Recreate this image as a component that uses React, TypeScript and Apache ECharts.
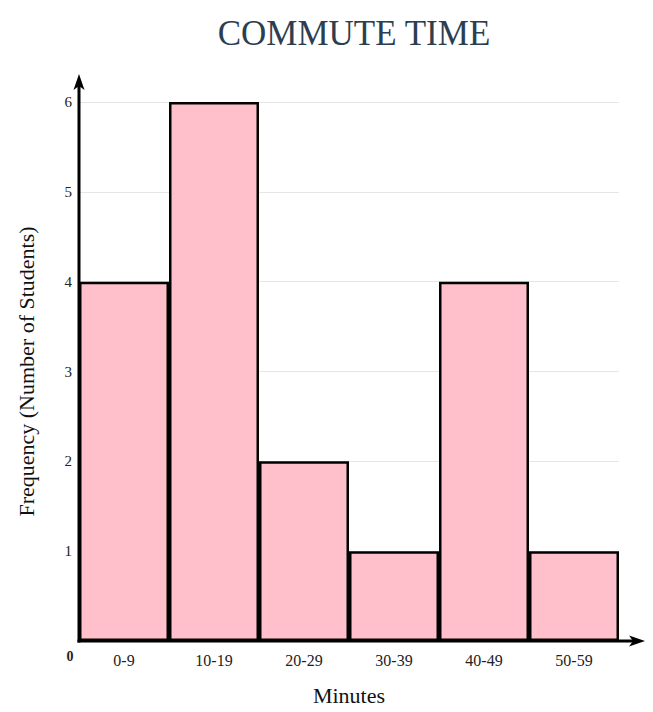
import React, { useEffect, useRef } from "react";
import * as echarts from "echarts";

const categories = ["0-9", "10-19", "20-29", "30-39", "40-49", "50-59"];
const frequencies = [4, 6, 2, 1, 4, 1];
const yTicks = [0, 1, 2, 3, 4, 5, 6];
const titleText = "COMMUTE TIME";
const xName = "Minutes";
const yName = "Frequency (Number of Students)";

const FONT = "'Liberation Serif', 'DejaVu Serif', serif";
const GRID = { left: 79, right: 34, top: 102, bottom: 71 };
const WIDTH = 653;
const HEIGHT = 712;

export default function App() {
  const ref = useRef<HTMLDivElement>(null);
  useEffect(() => {
    document.body.style.margin = "0";
    const chart = echarts.init(ref.current!, null, { renderer: "svg" });
    const yMax = yTicks[yTicks.length - 1];
    const plotCenter = GRID.left + (WIDTH - GRID.left - GRID.right) / 2;
    chart.setOption({
      animation: false,
      backgroundColor: "#ffffff",
      title: {
        text: titleText,
        left: plotCenter,
        textAlign: "center",
        top: 11,
        textStyle: { fontFamily: FONT, fontSize: 35, fontWeight: "normal", color: "#2c3e50" },
      },
      grid: GRID,
      xAxis: {
        type: "category",
        data: categories,
        name: xName,
        nameLocation: "middle",
        nameGap: 43,
        nameTextStyle: { fontFamily: FONT, fontSize: 22, color: "#111" },
        axisLine: { show: false },
        axisTick: { show: false },
        axisLabel: { margin: 11, fontFamily: FONT, fontSize: 16, color: "#222" },
        splitLine: { show: false },
      },
      yAxis: {
        type: "value",
        min: 0,
        max: yMax,
        interval: 1,
        name: yName,
        nameLocation: "middle",
        nameGap: 42,
        nameTextStyle: { fontFamily: FONT, fontSize: 22, color: "#111" },
        axisLine: { show: false },
        axisTick: { show: false },
        axisLabel: { margin: 7, fontFamily: FONT, fontSize: 15, color: "#222", showMinLabel: false },
        splitLine: { show: true, lineStyle: { color: "#e6e6e6", width: 1 } },
      },
      series: [
        {
          type: "bar",
          data: frequencies,
          barWidth: "100%",
          barCategoryGap: 0,
          itemStyle: { color: "#ffc0cb", borderColor: "#000", borderWidth: 2.5 },
          z: 3,
        },
      ],
    });

    const origin = chart.convertToPixel({ gridIndex: 0 }, [0, 0]) as number[];
    const topPt = chart.convertToPixel({ yAxisIndex: 0 }, yMax) as number;
    const lastCat = chart.convertToPixel({ xAxisIndex: 0 }, categories.length - 1) as number;
    const firstCat = chart.convertToPixel({ xAxisIndex: 0 }, 0) as number;
    const band = categories.length > 1 ? (lastCat - firstCat) / (categories.length - 1) : 90;
    const ox = firstCat - band / 2;
    const oy = origin[1];
    const rightEnd = lastCat + band / 2;
    const yTip = topPt - 28;
    const xTip = rightEnd + 26;

    chart.setOption({
      graphic: [
        {
          type: "line",
          z: 10,
          shape: { x1: ox, y1: oy + 1.5, x2: ox, y2: yTip + 8 },
          style: { stroke: "#000", lineWidth: 3 },
        },
        {
          type: "line",
          z: 10,
          shape: { x1: ox - 1.5, y1: oy, x2: xTip - 8, y2: oy },
          style: { stroke: "#000", lineWidth: 3 },
        },
        {
          type: "polygon",
          z: 11,
          shape: {
            points: [
              [ox, yTip],
              [ox + 5.5, yTip + 16],
              [ox, yTip + 12],
              [ox - 5.5, yTip + 16],
            ],
          },
          style: { fill: "#000" },
        },
        {
          type: "polygon",
          z: 11,
          shape: {
            points: [
              [xTip, oy],
              [xTip - 16, oy - 5.5],
              [xTip - 12, oy],
              [xTip - 16, oy + 5.5],
            ],
          },
          style: { fill: "#000" },
        },
        {
          type: "text",
          z: 11,
          x: ox - 9,
          y: oy + 15,
          style: {
            text: String(yTicks[0]),
            fontFamily: FONT,
            fontSize: 14,
            fontWeight: "bold",
            fill: "#222",
            align: "center",
            verticalAlign: "middle",
          },
        },
      ],
    });

    return () => chart.dispose();
  }, []);
  return <div ref={ref} style={{ width: WIDTH, height: HEIGHT }} />;
}
